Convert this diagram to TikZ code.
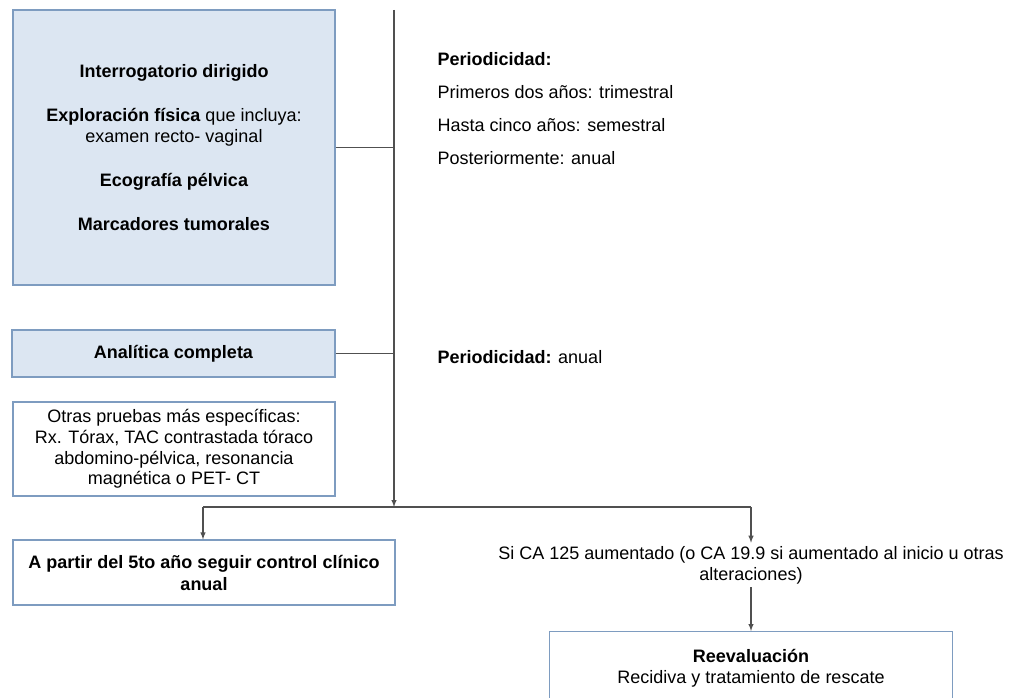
\documentclass[tikz,border=0pt]{standalone}
\usepackage{fontspec}
\setmainfont{Liberation Sans}
\usepackage{xcolor}
\usepackage{tikz}
\usetikzlibrary{positioning}
\definecolor{azulclaro}{HTML}{DCE6F2}
\definecolor{azulborde}{HTML}{7E9CC0}
\definecolor{gris}{HTML}{505050}
\tikzset{
  Caja/.style={draw=azulborde,line width=1.2pt,fill=white,align=center,inner sep=0pt}, % para cajas
  CajaAzul/.style={Caja,fill=azulclaro}, % cajas rellenas
  Linea/.style={draw=gris,line width=1.4pt}, % para lineas
  Flecha/.style={Linea,->} % para flechas
}

\begin{document}
\begin{tikzpicture}[x=1pt,y=-1pt,
font=\fontsize{18}{20.7}\selectfont,
>=latex % puntas de flecha
]
\clip (0,0) rectangle (1013,698);

%Cajas
\node[CajaAzul, minimum width=322, minimum height=275] (examen) at (174,147.5)
  {{\bfseries Interrogatorio dirigido}\\[24pt]{\bfseries Exploración física} que incluya:\\examen recto- vaginal\\[23pt]{\bfseries Ecografía pélvica}\\[24pt]{\bfseries Marcadores tumorales}};
\node[CajaAzul, minimum width=323, minimum height=47, font=\fontsize{18}{20.7}\selectfont\bfseries] (analitica) at (173.5,353.5) {Analítica completa};
\node[Caja, minimum width=322, minimum height=94] (otras) at (174,449)
  {Otras pruebas más específicas:\\Rx. Tórax, TAC contrastada tóraco\\abdomino-pélvica, resonancia\\magnética o PET- CT};
\node[Caja, minimum width=382, minimum height=65, font=\fontsize{18}{22}\selectfont\bfseries] (control) at (204,572.5)
  {A partir del 5to año seguir control clínico\\anual};
\node[align=center] (siCA) at (751,565)
  {Si CA 125 aumentado (o CA 19.9 si aumentado al inicio u otras\\alteraciones)};
\node[Caja, minimum width=403, minimum height=74, anchor=north] (reeval) at (751,631)
  {{\bfseries Reevaluación}\\Recidiva y tratamiento de rescate};

%Textos
\node[anchor=west, align=left, font=\fontsize{18}{33}\selectfont] (periodo) at (434,108.5)
  {{\bfseries Periodicidad:}\\Primeros dos años: trimestral\\Hasta cinco años: semestral\\Posteriormente: anual};
\node[anchor=west] (periodoAnual) at (434,357) {{\bfseries Periodicidad:} anual};

%Conectores
\coordinate (arriba) at (394,10);
\coordinate (cruce) at (394,507);
\coordinate (izq) at (203,507);
\coordinate (der) at (751,507);
\draw[Flecha] (arriba) -- (cruce);
\draw[Linea] (examen.east) -- (examen.east -| arriba);
\draw[Linea] (analitica.east) -- (analitica.east -| arriba);
\draw[Linea] (izq) -- (der);
\draw[Flecha] (izq) -- (izq |- control.north);
\draw[Flecha] (der) -- (siCA.north);
\draw[Flecha] (siCA.south) -- (reeval.north);

\end{tikzpicture}
\end{document}
